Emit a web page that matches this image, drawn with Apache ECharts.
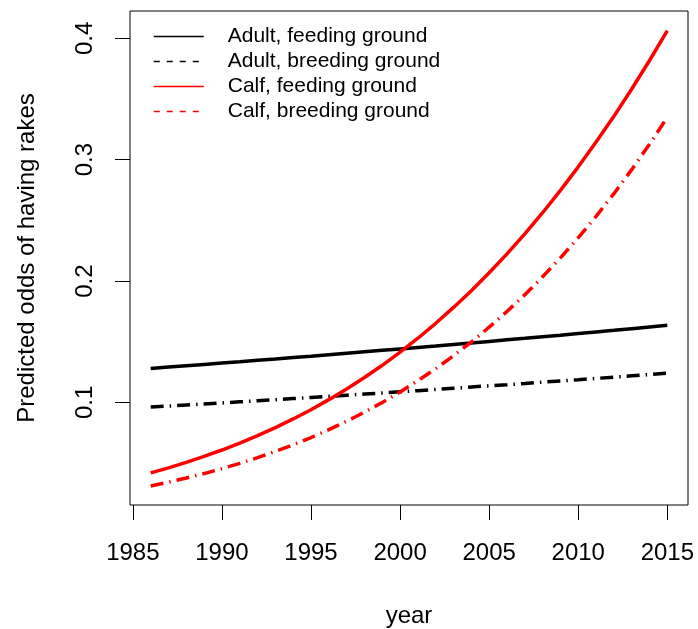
<!DOCTYPE html>
<html>
<head>
<meta charset="utf-8">
<script src="https://cdn.jsdelivr.net/npm/echarts@6/dist/echarts.min.js"></script>
<style>
  html, body { margin: 0; padding: 0; background: #fff; }
  #main { width: 698px; height: 629px; }
</style>
</head>
<body>
<div id="main"></div>
<script>
// values, one per year
var years = [1986, 1987, 1988, 1989, 1990, 1991, 1992, 1993, 1994, 1995,
             1996, 1997, 1998, 1999, 2000, 2001, 2002, 2003, 2004, 2005,
             2006, 2007, 2008, 2009, 2010, 2011, 2012, 2013, 2014, 2015];

var adultFeeding = [0.1280, 0.1291, 0.1302, 0.1313, 0.1324, 0.1335, 0.1347, 0.1358, 0.1370, 0.1381,
                    0.1393, 0.1405, 0.1417, 0.1429, 0.1441, 0.1453, 0.1465, 0.1478, 0.1490, 0.1503,
                    0.1516, 0.1528, 0.1541, 0.1554, 0.1568, 0.1581, 0.1594, 0.1608, 0.1622, 0.1635];

var adultBreeding = [0.0962, 0.0970, 0.0979, 0.0988, 0.0996, 0.1005, 0.1014, 0.1023, 0.1032, 0.1041,
                     0.1050, 0.1060, 0.1069, 0.1078, 0.1088, 0.1097, 0.1107, 0.1117, 0.1127, 0.1137,
                     0.1146, 0.1156, 0.1167, 0.1177, 0.1187, 0.1198, 0.1208, 0.1219, 0.1230, 0.1241];

var calfFeeding = [0.0420, 0.0461, 0.0506, 0.0555, 0.0608, 0.0665, 0.0726, 0.0792, 0.0864, 0.0940,
                   0.1023, 0.1111, 0.1205, 0.1306, 0.1414, 0.1529, 0.1652, 0.1783, 0.1921, 0.2068,
                   0.2224, 0.2389, 0.2563, 0.2747, 0.2941, 0.3145, 0.3357, 0.3582, 0.3817, 0.4063];

var calfBreeding = [0.0312, 0.0343, 0.0378, 0.0414, 0.0455, 0.0498, 0.0545, 0.0596, 0.0652, 0.0711,
                    0.0776, 0.0845, 0.0920, 0.1000, 0.1086, 0.1179, 0.1278, 0.1385, 0.1498, 0.1620,
                    0.1749, 0.1887, 0.2035, 0.2191, 0.2357, 0.2533, 0.2720, 0.2918, 0.3128, 0.3349];

var xTicks = [1985, 1990, 1995, 2000, 2005, 2010, 2015];
var yTicks = [0.1, 0.2, 0.3, 0.4];

var seriesNames = ['Adult, feeding ground', 'Adult, breeding ground', 'Calf, feeding ground', 'Calf, breeding ground'];

function pairs(arr) {
    return years.map(function (y, i) { return [y, arr[i]]; });
}

var fontFamily = '"Liberation Sans", Arial, Helvetica, sans-serif';
var dashPattern = [13, 6, 1.5, 6];

var chartDom = document.getElementById('main');
var chart = echarts.init(chartDom, null, { renderer: 'canvas' });

var option = {
    animation: false,
    backgroundColor: '#fff',
    textStyle: { fontFamily: fontFamily, color: '#000' },
    grid: {
        left: 130,
        right: 10,
        top: 11,
        bottom: 124,
        containLabel: false,
        outerBoundsMode: 'none',
        show: true,
        borderColor: '#000',
        borderWidth: 1,
        backgroundColor: 'transparent'
    },
    legend: {
        show: true,
        orient: 'vertical',
        left: 153,
        top: 26,
        padding: 0,
        itemWidth: 50,
        itemHeight: 14,
        itemGap: 4,
        lineStyle: { width: 1.5 },
        itemStyle: { opacity: 0, borderWidth: 0 },
        textStyle: {
            fontFamily: fontFamily,
            fontSize: 21,
            color: '#000',
            padding: [0, 0, 0, 19]
        },
        data: [
            { name: seriesNames[0], lineStyle: { width: 1.5, type: 'solid' } },
            { name: seriesNames[1], lineStyle: { width: 1.5, type: [6, 7] } },
            { name: seriesNames[2], lineStyle: { width: 1.5, type: 'solid' } },
            { name: seriesNames[3], lineStyle: { width: 1.5, type: [6, 7] } }
        ]
    },
    xAxis: {
        type: 'value',
        min: 1984.84,
        max: 2016.16,
        name: 'year',
        nameLocation: 'middle',
        nameGap: 99,
        nameTextStyle: { fontFamily: fontFamily, fontSize: 24, color: '#000' },
        axisLine: { show: false },
        axisTick: {
            show: true,
            inside: false,
            length: 15,
            customValues: xTicks,
            lineStyle: { color: '#000', width: 1 }
        },
        axisLabel: {
            show: true,
            margin: 36,
            customValues: xTicks,
            fontFamily: fontFamily,
            fontSize: 24,
            color: '#000',
            formatter: function (v) { return String(v); }
        },
        splitLine: { show: false }
    },
    yAxis: {
        type: 'value',
        min: 0.0155,
        max: 0.4225,
        name: 'Predicted odds of having rakes',
        nameLocation: 'middle',
        nameRotate: 90,
        nameGap: 91,
        nameTextStyle: { fontFamily: fontFamily, fontSize: 24, color: '#000' },
        axisLine: { show: false },
        axisTick: {
            show: true,
            inside: false,
            length: 15,
            customValues: yTicks,
            lineStyle: { color: '#000', width: 1 }
        },
        axisLabel: {
            show: true,
            rotate: 90,
            margin: 33,
            customValues: yTicks,
            fontFamily: fontFamily,
            fontSize: 24,
            color: '#000',
            formatter: function (v) { return v.toFixed(1); }
        },
        splitLine: { show: false }
    },
    series: [
        {
            name: seriesNames[0],
            type: 'line',
            data: pairs(adultFeeding),
            symbol: 'none',
            color: '#000',
            lineStyle: { color: '#000', width: 3.5, type: 'solid' }
        },
        {
            name: seriesNames[1],
            type: 'line',
            data: pairs(adultBreeding),
            symbol: 'none',
            color: '#000',
            lineStyle: { color: '#000', width: 3.5, type: dashPattern }
        },
        {
            name: seriesNames[2],
            type: 'line',
            data: pairs(calfFeeding),
            symbol: 'none',
            color: '#ff0000',
            lineStyle: { color: '#ff0000', width: 3.5, type: 'solid' }
        },
        {
            name: seriesNames[3],
            type: 'line',
            data: pairs(calfBreeding),
            symbol: 'none',
            color: '#ff0000',
            lineStyle: { color: '#ff0000', width: 3.5, type: dashPattern }
        }
    ]
};

chart.setOption(option);
</script>
</body>
</html>
